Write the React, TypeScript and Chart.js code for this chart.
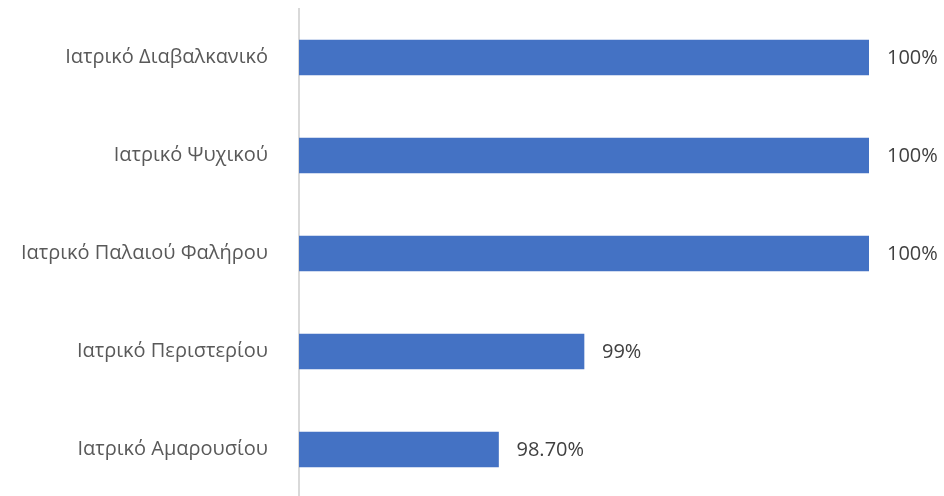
import React, { useEffect, useRef } from "react";
import { Chart, registerables } from "chart.js";

Chart.register(...registerables);

const categories = [
  "Ιατρικό Διαβαλκανικό",
  "Ιατρικό Ψυχικού",
  "Ιατρικό Παλαιού Φαλήρου",
  "Ιατρικό Περιστερίου",
  "Ιατρικό Αμαρουσίου",
];
const values = [100, 100, 100, 99, 98.7];
const valueLabels = ["100%", "100%", "100%", "99%", "98.70%"];

const FONT = "'Open Sans', sans-serif";

const labelPlugin = {
  id: "barLabels",
  afterDatasetsDraw(chart: any) {
    const { ctx } = chart;
    const meta = chart.getDatasetMeta(0);
    ctx.save();
    ctx.font = `20px ${FONT}`;
    ctx.fillStyle = "#404040";
    ctx.textAlign = "left";
    ctx.textBaseline = "middle";
    meta.data.forEach((bar: any, i: number) => {
      ctx.fillText(valueLabels[i], bar.x + 18, bar.y + 1);
    });
    ctx.restore();
  },
};

export default function App() {
  const ref = useRef<HTMLCanvasElement>(null);
  useEffect(() => {
    if (!ref.current) return;
    const chart = new Chart(ref.current, {
      type: "bar",
      data: {
        labels: categories,
        datasets: [
          {
            data: values,
            backgroundColor: "#4472C4",
            barThickness: 35,
          },
        ],
      },
      options: {
        indexAxis: "y",
        animation: false,
        responsive: false,
        maintainAspectRatio: false,
        devicePixelRatio: 1,
        layout: { padding: { top: 8.5, bottom: 7.5, left: 0, right: 75 } },
        plugins: { legend: { display: false }, tooltip: { enabled: false } },
        scales: {
          x: { display: false, min: 98, max: 100 },
          y: {
            grid: { display: false, drawTicks: false },
            border: { display: true, color: "#d9d9d9", width: 2 },
            ticks: {
              color: "#595959",
              font: { family: FONT, size: 20 },
              padding: 31,
            },
            afterFit(scale: any) {
              scale.width = 299;
              scale.paddingTop = 0;
              scale.paddingBottom = 0;
            },
          },
        },
      },
      plugins: [labelPlugin],
    });
    return () => chart.destroy();
  }, []);
  return (
    <div style={{ position: "fixed", left: 0, top: 0, width: 944, height: 496, overflow: "hidden", background: "#fff" }}>
      <canvas ref={ref} width={944} height={506} style={{ display: "block", width: 944, height: 506 }} />
    </div>
  );
}
